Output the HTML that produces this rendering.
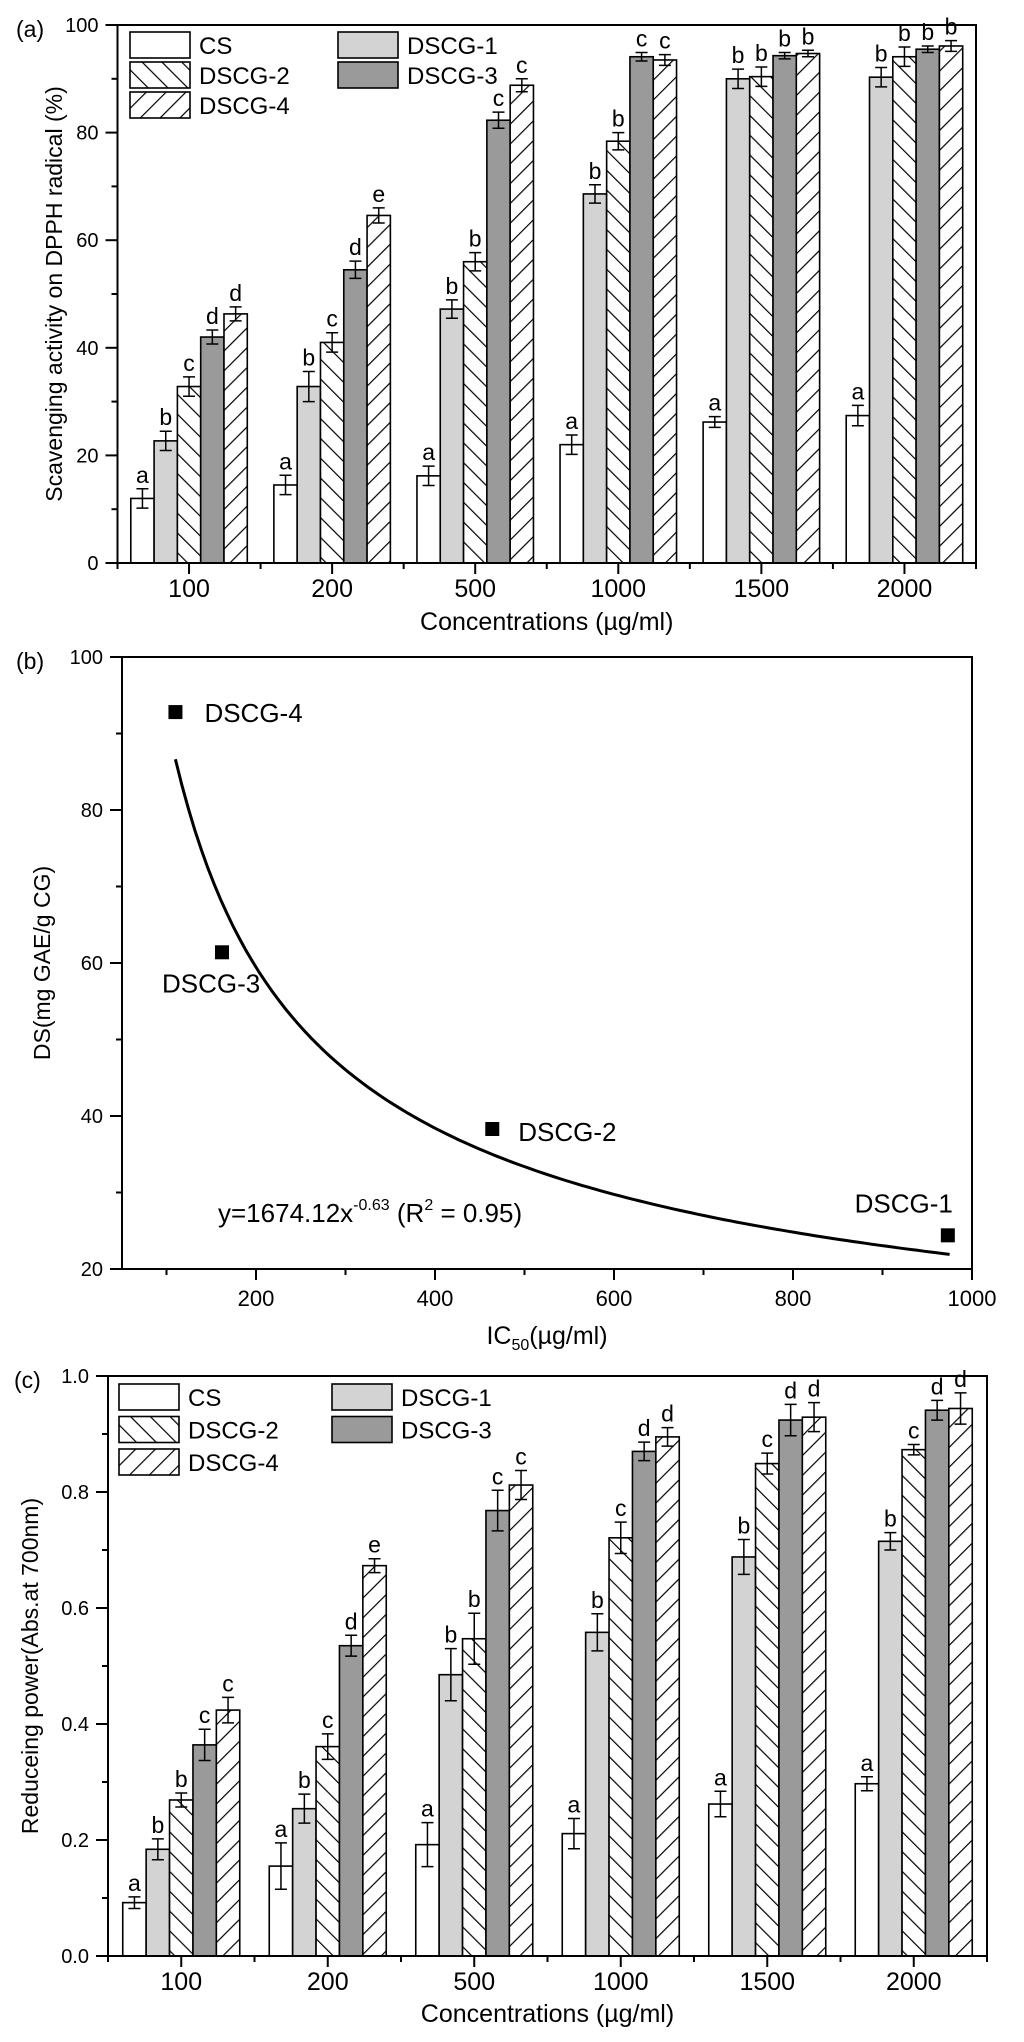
<!DOCTYPE html>
<html><head><meta charset="utf-8"><style>
html,body{margin:0;padding:0;background:#fff}
svg{display:block;font-family:"Liberation Sans",Arial,sans-serif}
</style></head><body>
<svg id="fig" width="1024" height="2042" viewBox="0 0 1024 2042" xmlns="http://www.w3.org/2000/svg">
<defs>
<pattern id="hatchB" patternUnits="userSpaceOnUse" width="14" height="14" patternTransform="rotate(-45)"><rect width="14" height="14" fill="#fff"/><line x1="0" y1="0" x2="0" y2="14" stroke="#000" stroke-width="2.4"/></pattern>
<pattern id="hatchF" patternUnits="userSpaceOnUse" width="14" height="14" patternTransform="rotate(45)"><rect width="14" height="14" fill="#fff"/><line x1="0" y1="0" x2="0" y2="14" stroke="#000" stroke-width="2.4"/></pattern>
</defs>
<g id="pa"></g>
<g id="pb"></g>
<g id="pc"></g>
</svg>
<script>
// ---- data ----
const categories = ["100","200","500","1000","1500","2000"];
const seriesNames = ["CS","DSCG-1","DSCG-2","DSCG-3","DSCG-4"];
// Panel (a) DPPH scavenging (%)
const dpphCS = [12,14.5,16.2,22,26.2,27.4];
const dpphD1 = [22.7,32.8,47.2,68.6,90,90.3];
const dpphD2 = [32.8,41,56,78.4,90.4,94.1];
const dpphD3 = [42,54.5,82.3,94.1,94.3,95.5];
const dpphD4 = [46.3,64.6,88.8,93.5,94.7,96.1];
const dpphErrCS = [1.8,1.8,1.8,1.8,1,1.9];
const dpphErrD1 = [1.8,2.8,1.7,1.7,1.8,1.8];
const dpphErrD2 = [1.8,1.8,1.7,1.6,1.8,1.8];
const dpphErrD3 = [1.3,1.6,1.5,0.8,0.6,0.6];
const dpphErrD4 = [1.3,1.4,1.2,1.0,0.6,1.0];
const dpphLetters = [["a","b","c","d","d"],["a","b","c","d","e"],["a","b","b","c","c"],["a","b","b","c","c"],["a","b","b","b","b"],["a","b","b","b","b"]];
const dpphTicks = [0,20,40,60,80,100];
// Panel (c) reducing power
const rpCS = [0.092,0.155,0.192,0.211,0.262,0.297];
const rpD1 = [0.184,0.254,0.485,0.558,0.688,0.715];
const rpD2 = [0.269,0.361,0.547,0.721,0.849,0.873];
const rpD3 = [0.364,0.535,0.768,0.870,0.924,0.941];
const rpD4 = [0.424,0.673,0.812,0.895,0.929,0.944];
const rpErrCS = [0.01,0.04,0.038,0.026,0.022,0.012];
const rpErrD1 = [0.018,0.025,0.045,0.032,0.03,0.015];
const rpErrD2 = [0.012,0.022,0.044,0.027,0.018,0.009];
const rpErrD3 = [0.027,0.018,0.035,0.016,0.027,0.017];
const rpErrD4 = [0.022,0.012,0.025,0.016,0.025,0.027];
const rpLetters = [["a","b","b","c","c"],["a","b","c","d","e"],["a","b","b","c","c"],["a","b","c","d","d"],["a","b","c","d","d"],["a","b","c","d","d"]];
const rpTicks = [0,0.2,0.4,0.6,0.8,1.0];
// Panel (b) scatter
const ptNames = ["DSCG-4","DSCG-3","DSCG-2","DSCG-1"];
const ptIC50 = [110,162,464,973];
const ptDS = [92.8,61.4,38.3,24.4];
const fitCoef = [1674.12,-0.63];
const fitRange = [110,975];
const bXTicks = [200,400,600,800,1000];
const bYTicks = [20,40,60,80,100];

// ---- helpers ----
const NS="http://www.w3.org/2000/svg";
function mk(parent,tag,attrs,text){const e=document.createElementNS(NS,tag);for(const k in attrs)e.setAttribute(k,attrs[k]);if(text!==undefined)e.textContent=text;parent.appendChild(e);return e;}
const fills=["#fff","#d3d3d3","url(#hatchB)","#9a9a9a","url(#hatchF)"];

function barPanel(g,cfg){
  const {L,R,T,B,ymax,vals,errs,letters,ticks,fmt,minorStep,label,title,xtitle,titleX,legend,legX2}=cfg;
  const n=categories.length, sp=(R-L)/n, bw=cfg.bw;
  const y=v=>B-(v/ymax)*(B-T);
  const xc=i=>L+sp*(i+0.5);
  for(let i=0;i<n;i++){
    for(let s=0;s<5;s++){
      const v=vals[s][i], e=errs[s][i];
      const x0=xc(i)-2.5*bw+s*bw;
      const r=mk(g,"rect",{x:x0,y:y(v),width:bw,height:B-y(v),fill:fills[s],stroke:"#000","stroke-width":1.6});
      
      
      const cx=x0+bw/2;
      const eb=mk(g,"path",{d:`M${cx},${y(v+e)}V${y(v-e)}M${cx-6},${y(v+e)}h12M${cx-6},${y(v-e)}h12`,stroke:"#000","stroke-width":1.5,fill:"none"});
      
      
      const t=mk(g,"text",{x:cx,y:y(v+e)-6,"text-anchor":"middle","font-size":23},letters[i][s]);
      
      
    }
  }
  const fr=mk(g,"rect",{x:L,y:T,width:R-L,height:B-T,fill:"none",stroke:"#000","stroke-width":2});
  
  
  for(let k=0;k<ticks.length;k++){
    const v=ticks[k];
    mk(g,"line",{x1:L-12,x2:L,y1:y(v),y2:y(v),stroke:"#000","stroke-width":2});
    const t=mk(g,"text",{x:L-19,y:y(v)+7,"text-anchor":"end","font-size":20},fmt(v));
    
    
    if(k<ticks.length-1){const m=v+minorStep;mk(g,"line",{x1:L-6,x2:L,y1:y(m),y2:y(m),stroke:"#000","stroke-width":2});}
  }
  for(let i=0;i<n;i++){
    mk(g,"line",{x1:xc(i),x2:xc(i),y1:B,y2:B+11,stroke:"#000","stroke-width":2});
    mk(g,"line",{x1:L+sp*i,x2:L+sp*i,y1:B,y2:B+6,stroke:"#000","stroke-width":2});
    const t=mk(g,"text",{x:xc(i),y:B+34,"text-anchor":"middle","font-size":25},categories[i]);
    
    
  }
  mk(g,"line",{x1:R,x2:R,y1:B,y2:B+6,stroke:"#000","stroke-width":2});
  const xt=mk(g,"text",{x:(L+R)/2,y:cfg.xtitleY,"text-anchor":"middle","font-size":25,"xml:space":"preserve"},xtitle);
  
  
  const yt=mk(g,"text",{x:0,y:0,"text-anchor":"middle","font-size":23,transform:`translate(${titleX},${(T+B)/2}) rotate(-90)`},title);
  
  
  const pl=mk(g,"text",{x:cfg.labelX,y:T+12,"font-size":23},label);
  
  
  const pos=[[legend.x,0],[legX2,0],[legend.x,1],[legX2,1],[legend.x,2]];
  for(let s=0;s<5;s++){
    const [lx,row]=pos[s]; const ly=legend.y+row*legend.dy;
    const lg=mk(g,"g",{});
    
    
    mk(lg,"rect",{x:lx,y:ly,width:60,height:26,fill:fills[s],stroke:"#000","stroke-width":1.6});
    mk(lg,"text",{x:lx+69,y:ly+22,"font-size":24},seriesNames[s]);
  }
}

barPanel(document.getElementById("pa"),{L:117.5,R:976,T:25,B:563,ymax:100,bw:23.3,
  vals:[dpphCS,dpphD1,dpphD2,dpphD3,dpphD4],errs:[dpphErrCS,dpphErrD1,dpphErrD2,dpphErrD3,dpphErrD4],
  letters:dpphLetters,ticks:dpphTicks,fmt:v=>String(v),minorStep:10,label:"(a)",labelX:16,
  title:"Scavenging activity on DPPH radical (%)",titleX:62,xtitle:"Concentrations  (µg/ml)",xtitleY:630,
  legend:{x:130,y:32,dy:30},legX2:338});

barPanel(document.getElementById("pc"),{L:108,R:987,T:1376,B:1956,ymax:1,bw:23.4,
  vals:[rpCS,rpD1,rpD2,rpD3,rpD4],errs:[rpErrCS,rpErrD1,rpErrD2,rpErrD3,rpErrD4],
  letters:rpLetters,ticks:rpTicks,fmt:v=>v.toFixed(1),minorStep:0.1,label:"(c)",labelX:14,
  title:"Reduceing power(Abs.at 700nm)",titleX:38,xtitle:"Concentrations (µg/ml)",xtitleY:2022,
  legend:{x:119,y:1384,dy:32.5},legX2:332});

(function(){
  const g=document.getElementById("pb");
  const L=122,R=972,T=657,B=1269;
  const x=v=>77+v*0.895, y=v=>B-(v-20)*7.65;
  const fr=mk(g,"rect",{x:L,y:T,width:R-L,height:B-T,fill:"none",stroke:"#000","stroke-width":2});
  
  
  for(let k=0;k<bYTicks.length;k++){const v=bYTicks[k];
    mk(g,"line",{x1:L-12,x2:L,y1:y(v),y2:y(v),stroke:"#000","stroke-width":2});
    const t=mk(g,"text",{x:L-19,y:y(v)+7,"text-anchor":"end","font-size":20},String(v));
    
    
    if(k<bYTicks.length-1)mk(g,"line",{x1:L-6,x2:L,y1:y(v+10),y2:y(v+10),stroke:"#000","stroke-width":2});
  }
  for(let k=0;k<bXTicks.length;k++){const v=bXTicks[k];
    mk(g,"line",{x1:x(v),x2:x(v),y1:B,y2:B+11,stroke:"#000","stroke-width":2});
    mk(g,"line",{x1:x(v-100),x2:x(v-100),y1:B,y2:B+6,stroke:"#000","stroke-width":2});
    const t=mk(g,"text",{x:x(v),y:B+37,"text-anchor":"middle","font-size":22},String(v));
    
    
  }
  let d="";
  for(let i=0;i<=120;i++){const xv=fitRange[0]+(fitRange[1]-fitRange[0])*i/120;const yv=fitCoef[0]*Math.pow(xv,fitCoef[1]);d+=(i?"L":"M")+x(xv).toFixed(1)+","+y(yv).toFixed(1);}
  const c=mk(g,"path",{d:d,fill:"none",stroke:"#000","stroke-width":3});
  
  
  const lblOff=[[29,10,"start"],[-60,40,"start"],[26,12,"start"],[5,-23,"end"]];
  for(let i=0;i<ptNames.length;i++){
    const px=x(ptIC50[i]),py=y(ptDS[i]);
    const p=mk(g,"rect",{x:px-7,y:py-7,width:14,height:14,fill:"#000"});
    
    
    const o=lblOff[i];
    const t=mk(g,"text",{x:px+o[0],y:py+o[1],"text-anchor":o[2],"font-size":26},ptNames[i]);
    
    
  }
  const eq=mk(g,"text",{x:218,y:1222,"font-size":26},"");
  
  
  mk(eq,"tspan",{},"y=1674.12x");
  mk(eq,"tspan",{dy:-12,"font-size":16},"-0.63");
  mk(eq,"tspan",{dy:12}," (R");
  mk(eq,"tspan",{dy:-12,"font-size":16},"2");
  mk(eq,"tspan",{dy:12}," = 0.95)");
  const yt=mk(g,"text",{x:0,y:0,"text-anchor":"middle","font-size":23,transform:`translate(50,${(T+B)/2}) rotate(-90)`},"DS(mg GAE/g CG)");
  
  
  const xt=mk(g,"text",{x:(L+R)/2,y:1344,"text-anchor":"middle","font-size":25},"");
  
  
  mk(xt,"tspan",{},"IC");
  mk(xt,"tspan",{dy:6,"font-size":16},"50");
  mk(xt,"tspan",{dy:-6},"(µg/ml)");
  const pl=mk(g,"text",{x:16,y:T+12,"font-size":23},"(b)");
  
  
})();
</script>
</body></html>
